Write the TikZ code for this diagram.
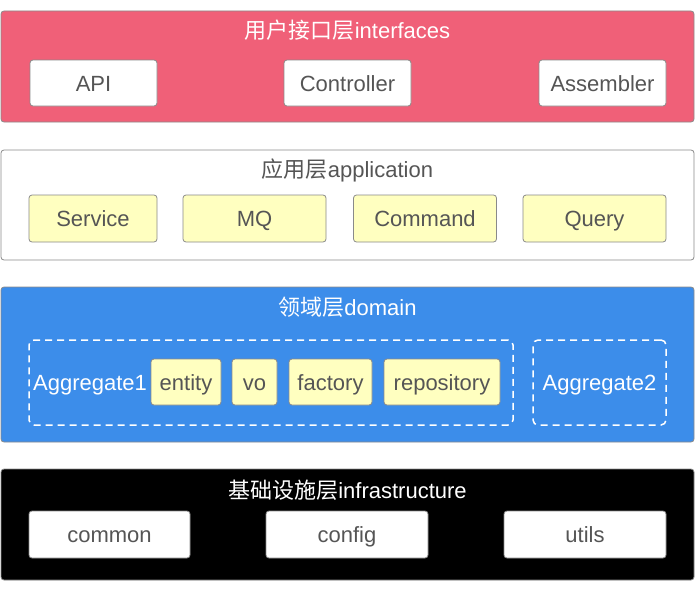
\documentclass[tikz,border=0pt]{standalone}
\usepackage{fontspec}
\setmainfont{Liberation Sans}
\newfontfamily\cjk{Noto Sans CJK SC}
\definecolor{redlayer}{HTML}{F06078}
\definecolor{bluelayer}{HTML}{3C8DEA}
\definecolor{yellowbox}{HTML}{FFFFC0}
\definecolor{edgegray}{HTML}{8A8A8A}
\definecolor{textgray}{HTML}{555555}
\begin{document}
\begin{tikzpicture}[x=1pt,y=-1pt,
  layer/.style={draw=edgegray, line width=0.8pt, rounded corners=3pt, minimum width=693pt, inner sep=0pt},
  title/.style={font=\fontsize{22}{26}\selectfont, inner sep=0pt, text height=16pt, text depth=0pt},
  item/.style={draw=edgegray, line width=0.8pt, rounded corners=3pt, inner sep=0pt,
    font=\fontsize{22}{26}\selectfont, text=textgray, text height=16pt, text depth=0pt},
  whitebox/.style={item, fill=white},
  yelbox/.style={item, fill=yellowbox},
  aggbox/.style={draw=white, line width=1.5pt, dash pattern=on 7pt off 5pt, rounded corners=5pt, inner sep=0pt,
    font=\fontsize{22}{26}\selectfont, text=white, text height=16pt, text depth=0pt}
]
\useasboundingbox (0,0) rectangle (695,594);

% layer 1
\node[layer, fill=redlayer, minimum height=111pt] (l1) at (347.5,66.5) {};
\node[title, text=white] (t1) at (347.5,31) {{\cjk 用户接口层}interfaces};
\node[whitebox, minimum width=127pt, minimum height=46pt] (api) at (93.5,83) {API};
\node[whitebox, minimum width=127pt, minimum height=46pt] (ctrl) at (347.5,83) {Controller};
\node[whitebox, minimum width=127pt, minimum height=46pt] (asm) at (602.5,83) {Assembler};

% layer 2
\node[layer, fill=white, minimum height=110pt] (l2) at (347.5,205) {};
\node[title, text=textgray] (t2) at (347.5,169) {{\cjk 应用层}application};
\node[yelbox, minimum width=128pt, minimum height=47pt] (svc) at (93,218.5) {Service};
\node[yelbox, minimum width=143pt, minimum height=47pt] (mq) at (254.5,218.5) {MQ};
\node[yelbox, minimum width=143pt, minimum height=47pt] (cmd) at (425,218.5) {Command};
\node[yelbox, minimum width=143pt, minimum height=47pt] (qry) at (594.5,218.5) {Query};

% layer 3
\node[layer, fill=bluelayer, minimum height=155pt] (l3) at (347.5,364.5) {};
\node[title, text=white] (t3) at (347.5,307) {{\cjk 领域层}domain};
\node[aggbox, minimum width=484pt, minimum height=85pt] (agg1) at (271,382.5) {};
\node[title, text=white, anchor=west] (agg1t) at (33,382.5) {Aggregate1};
\node[yelbox, minimum width=70pt, minimum height=46pt] (ent) at (186,382) {entity};
\node[yelbox, minimum width=45pt, minimum height=46pt] (vo) at (254.5,382) {vo};
\node[yelbox, minimum width=83pt, minimum height=46pt] (fac) at (330.5,382) {factory};
\node[yelbox, minimum width=116pt, minimum height=46pt] (repo) at (442,382) {repository};
\node[aggbox, minimum width=133pt, minimum height=85pt] (agg2) at (599.5,382.5) {Aggregate2};

% layer 4
\node[layer, fill=black, minimum height=111pt] (l4) at (347.5,524.5) {};
\node[title, text=white] (t4) at (347.5,490) {{\cjk 基础设施层}infrastructure};
\node[whitebox, minimum width=161pt, minimum height=47pt] (com) at (109.5,534.5) {common};
\node[whitebox, minimum width=162pt, minimum height=47pt] (cfg) at (347,534.5) {config};
\node[whitebox, minimum width=162pt, minimum height=47pt] (utl) at (585,534.5) {utils};
\end{tikzpicture}
\end{document}
